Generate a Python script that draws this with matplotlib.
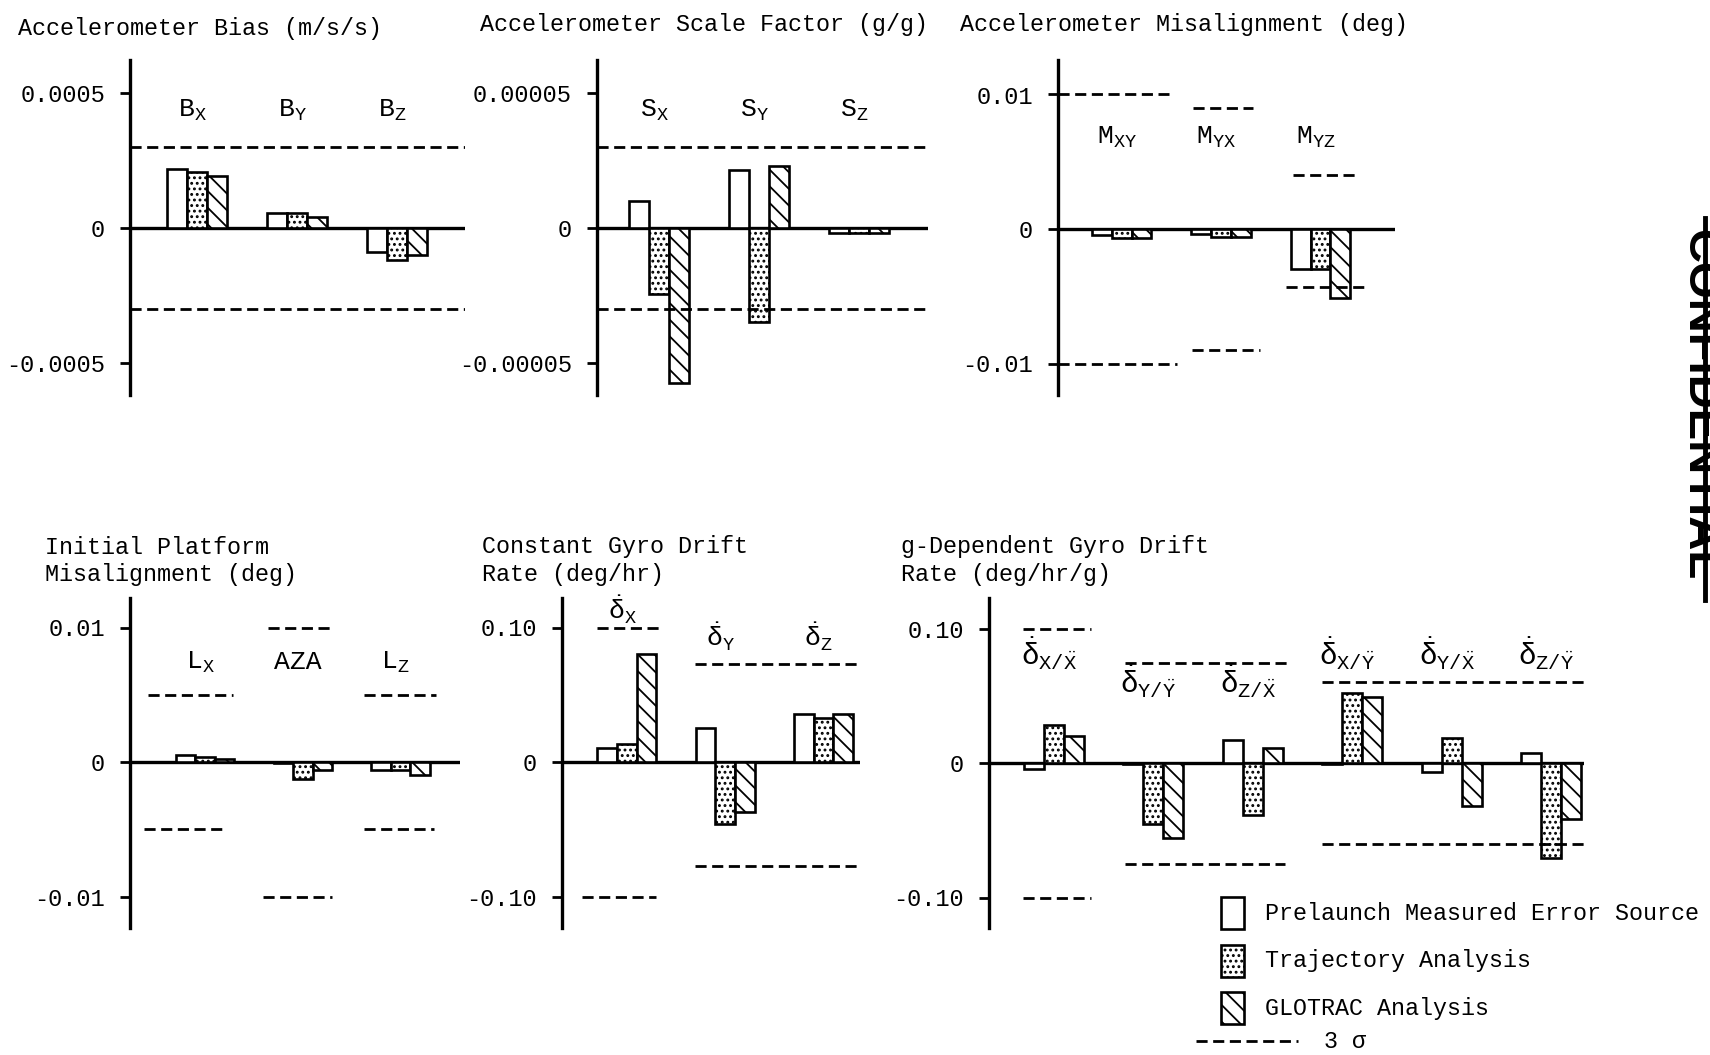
import numpy as np
import matplotlib.pyplot as plt
from matplotlib.patches import Rectangle
from matplotlib.lines import Line2D

plt.rcParams['font.family'] = ['Liberation Mono', 'DejaVu Sans']
plt.rcParams['mathtext.fontset'] = 'custom'
plt.rcParams['mathtext.rm'] = 'Liberation Mono'
plt.rcParams['mathtext.it'] = 'Liberation Mono'
plt.rcParams['mathtext.bf'] = 'Liberation Mono:bold'
plt.rcParams['hatch.linewidth'] = 1.3

W, H = 1710, 1055

# ---------------- data ----------------
# Accelerometer bias (m/s/s)
bias_names = [r'$\mathrm{B_X}$', r'$\mathrm{B_Y}$', r'$\mathrm{B_Z}$']
bias_pre = [0.00022, 0.000055, -0.00009]
bias_traj = [0.000207, 0.000055, -0.00012]
bias_glo = [0.000193, 0.00004, -0.0001]
bias_sig_hi = [0.0003, 0.0003, 0.0003]
bias_sig_lo = [-0.0003, -0.0003, -0.0003]
bias_ticks = ['0.0005', '0', '-0.0005']

# Accelerometer scale factor (g/g)
scale_names = [r'$\mathrm{S_X}$', r'$\mathrm{S_Y}$', r'$\mathrm{S_Z}$']
scale_pre = [0.00001, 0.0000215, -0.000002]
scale_traj = [-0.0000245, -0.0000348, -0.000002]
scale_glo = [-0.0000574, 0.000023, -0.000002]
scale_sig_hi = [0.00003, 0.00003, 0.00003]
scale_sig_lo = [-0.00003, -0.00003, -0.00003]
scale_ticks = ['0.00005', '0', '-0.00005']

# Accelerometer misalignment (deg)
mis_names = [r'$\mathrm{M_{XY}}$', r'$\mathrm{M_{YX}}$', r'$\mathrm{M_{YZ}}$']
mis_pre = [-0.00045, -0.0004, -0.003]
mis_traj = [-0.0007, -0.0006, -0.003]
mis_glo = [-0.0007, -0.0006, -0.0051]
mis_sig_hi = [0.01, 0.009, 0.004]
mis_sig_lo = [-0.01, -0.009, -0.0043]
mis_ticks = ['0.01', '0', '-0.01']

# Initial platform misalignment (deg)
plat_names = [r'$\mathrm{L_X}$', 'AZA', r'$\mathrm{L_Z}$']
plat_pre = [0.0005, -0.0001, -0.0006]
plat_traj = [0.0004, -0.0013, -0.0006]
plat_glo = [0.0002, -0.0006, -0.001]
plat_sig_hi = [0.005, 0.01, 0.005]
plat_sig_lo = [-0.005, -0.01, -0.005]
plat_ticks = ['0.01', '0', '-0.01']

# Constant gyro drift rate (deg/hr)
cgd_names = [r'$\dot{\delta}_\mathrm{X}$', r'$\dot{\delta}_\mathrm{Y}$', r'$\dot{\delta}_\mathrm{Z}$']
cgd_pre = [0.0104, 0.025, 0.036]
cgd_traj = [0.0134, -0.046, 0.033]
cgd_glo = [0.08, -0.037, 0.036]
cgd_sig_hi = [0.10, 0.073, 0.073]
cgd_sig_lo = [-0.10, -0.077, -0.077]
cgd_ticks = ['0.10', '0', '-0.10']

# g-dependent gyro drift rate (deg/hr/g)
gdd_names = [r'$\dot{\delta}_{\mathrm{X}/\ddot{\mathrm{X}}}$', r'$\dot{\delta}_{\mathrm{Y}/\ddot{\mathrm{Y}}}$',
             r'$\dot{\delta}_{\mathrm{Z}/\ddot{\mathrm{X}}}$', r'$\dot{\delta}_{\mathrm{X}/\ddot{\mathrm{Y}}}$',
             r'$\dot{\delta}_{\mathrm{Y}/\ddot{\mathrm{X}}}$', r'$\dot{\delta}_{\mathrm{Z}/\ddot{\mathrm{Y}}}$']
gdd_pre = [-0.0045, -0.001, 0.017, -0.001, -0.0067, 0.0075]
gdd_traj = [0.028, -0.045, -0.039, 0.052, 0.0187, -0.071]
gdd_glo = [0.02, -0.056, 0.011, 0.049, -0.032, -0.042]
gdd_sig_hi = [0.10, 0.074, 0.074, 0.06, 0.06, 0.06]
gdd_sig_lo = [-0.10, -0.075, -0.075, -0.06, -0.06, -0.06]
gdd_ticks = ['0.10', '0', '-0.10']

legend_labels = ['Prelaunch Measured Error Source', 'Trajectory Analysis', 'GLOTRAC Analysis']

# ---------------- drawing ----------------
fig = plt.figure(figsize=(W / 100, H / 100), dpi=100)


def fx(x):
    return x / W


def fy(y):
    return 1 - y / H


DASH = (0, (4, 2))
STIPPLE = '...'


def panel(rect, xlim, zero_px, unit, names, pre, traj, glo, sig_hi, sig_lo,
          hi_spans, lo_spans, label_y, ticks, unit_px=134.5, label_size=19):
    left, right, top, bottom = rect
    ax = fig.add_axes([fx(left), fy(bottom), (right - left) / W, (bottom - top) / H])
    ax.set_xlim(xlim)
    ax.set_ylim(-(bottom - zero_px) / unit_px * unit, (zero_px - top) / unit_px * unit)
    x = np.arange(len(names))
    w = 0.2
    ax.bar(x - w, pre, w, color='white', edgecolor='k', lw=1.9, zorder=3)
    ax.bar(x, traj, w, color='white', edgecolor='k', lw=1.9, hatch=STIPPLE, zorder=3)
    ax.bar(x + w, glo, w, color='white', edgecolor='k', lw=1.9, hatch='\\\\', zorder=3)
    ax.axhline(0, color='k', lw=2.4, zorder=2)
    for g, x0, x1 in hi_spans:
        ax.hlines(sig_hi[g], x0, x1, colors='k', lw=2, linestyles=DASH, zorder=4)
    for g, x0, x1 in lo_spans:
        ax.hlines(sig_lo[g], x0, x1, colors='k', lw=2, linestyles=DASH, zorder=4)
    for i, nm in enumerate(names):
        ax.text(i - 0.05, label_y[i] * unit, nm, ha='center', va='center',
                fontsize=label_size, zorder=5)
    for s in ['top', 'right', 'bottom']:
        ax.spines[s].set_visible(False)
    ax.spines['left'].set_linewidth(2.4)
    ax.set_xticks([])
    ax.set_yticks([unit, 0, -unit], ticks)
    ax.tick_params(axis='y', length=7, width=2, pad=11, labelsize=17)
    ax.patch.set_alpha(0)
    return ax


full = [(0, -0.67, 2.68)]
panel((130, 465, 60, 395), (-0.67, 2.68), 228, 0.0005, bias_names, bias_pre, bias_traj, bias_glo,
      bias_sig_hi, bias_sig_lo, full, full, [0.87] * 3, bias_ticks, unit_px=135)

full = [(0, -0.62, 2.69)]
panel((597, 928, 60, 395), (-0.62, 2.69), 228, 0.00005, scale_names, scale_pre, scale_traj, scale_glo,
      scale_sig_hi, scale_sig_lo, full, full, [0.87] * 3, scale_ticks, unit_px=135)

panel((1058, 1395, 60, 395), (-0.64, 2.75), 229, 0.01, mis_names, mis_pre, mis_traj, mis_glo,
      mis_sig_hi, mis_sig_lo,
      [(0, -0.64, 0.48), (1, 0.72, 1.32), (2, 1.72, 2.38)],
      [(0, -0.64, 0.56), (1, 0.71, 1.39), (2, 1.65, 2.49)],
      [0.68] * 3, mis_ticks)

panel((130, 460, 598, 928), (-0.77, 2.61), 762, 0.01, plat_names, plat_pre, plat_traj, plat_glo,
      plat_sig_hi, plat_sig_lo,
      [(0, -0.59, 0.29), (1, 0.64, 1.3), (2, 1.63, 2.36)],
      [(0, -0.63, 0.18), (1, 0.59, 1.3), (2, 1.63, 2.34)],
      [0.74] * 3, plat_ticks)

panel((562, 860, 598, 928), (-0.66, 2.37), 762, 0.10, cgd_names, cgd_pre, cgd_traj, cgd_glo,
      cgd_sig_hi, cgd_sig_lo,
      [(0, -0.30, 0.37), (1, 0.69, 2.34)],
      [(0, -0.46, 0.30), (1, 0.69, 2.37)],
      [1.13, 0.93, 0.93], cgd_ticks)

panel((989, 1584, 598, 928), (-0.65, 5.33), 763, 0.10, gdd_names, gdd_pre, gdd_traj, gdd_glo,
      gdd_sig_hi, gdd_sig_lo,
      [(0, -0.31, 0.38), (1, 0.72, 2.37), (3, 2.70, 5.36)],
      [(0, -0.31, 0.38), (1, 0.72, 2.32), (3, 2.70, 5.36)],
      [0.81, 0.60, 0.60, 0.81, 0.81, 0.81], gdd_ticks, label_size=21)

# titles
tkw = dict(fontsize=16.8, ha='left', va='center')
fig.text(fx(18), fy(28), 'Accelerometer Bias (m/s/s)', **tkw)
fig.text(fx(480), fy(25), 'Accelerometer Scale Factor (g/g)', **tkw)
fig.text(fx(960), fy(25), 'Accelerometer Misalignment (deg)', **tkw)
fig.text(fx(45), fy(548), 'Initial Platform', **tkw)
fig.text(fx(45), fy(575), 'Misalignment (deg)', **tkw)
fig.text(fx(482), fy(547), 'Constant Gyro Drift', **tkw)
fig.text(fx(482), fy(575), 'Rate (deg/hr)', **tkw)
fig.text(fx(901), fy(547), 'g-Dependent Gyro Drift', **tkw)
fig.text(fx(901), fy(575), 'Rate (deg/hr/g)', **tkw)

# legend
hatches = [None, STIPPLE, '\\\\']
for i, (lab, hat) in enumerate(zip(legend_labels, hatches)):
    yc = 913 + i * 47.5
    fig.add_artist(Rectangle((fx(1221), fy(yc + 16)), 23 / W, 32 / H, transform=fig.transFigure,
                             facecolor='white', edgecolor='k', lw=1.9, hatch=hat))
    fig.text(fx(1265), fy(yc), lab, **tkw)
fig.add_artist(Line2D([fx(1196), fx(1298)], [fy(1041), fy(1041)], color='k', lw=2,
                      linestyle=DASH, transform=fig.transFigure))
fig.text(fx(1324), fy(1041), '3 σ', **tkw)

# stamp at right edge
fig.text(fx(1677), fy(405), 'CONFIDENTIAL', rotation=-90, fontsize=34, fontweight='bold',
         family='Liberation Sans', ha='left', va='center')
fig.add_artist(Line2D([fx(1705), fx(1705)], [fy(218), fy(600)], color='k', lw=3.5,
                      transform=fig.transFigure))

fig.savefig('out.png', dpi=100)
